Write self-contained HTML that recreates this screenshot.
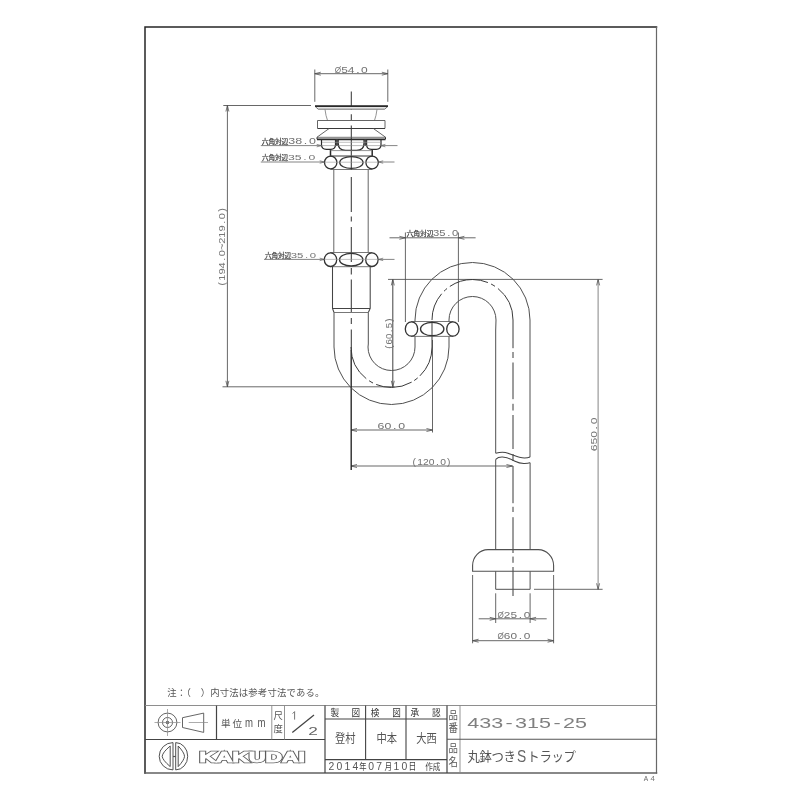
<!DOCTYPE html>
<html lang="ja"><head><meta charset="utf-8"><title>433-315-25 丸鉢つきSトラップ</title>
<style>
html,body{margin:0;padding:0;background:#fff;}
body{width:800px;height:800px;overflow:hidden;font-family:"Liberation Sans",sans-serif;}
svg{display:block;filter:grayscale(1) blur(0.45px)}
.t{font-family:"Liberation Sans",sans-serif;}
.m{font-family:"Liberation Mono",monospace;}
.j{font-family:"Liberation Sans","Noto Sans CJK JP",sans-serif;}
</style></head><body>
<svg width="800" height="800" viewBox="0 0 800 800">
<rect width="800" height="800" fill="#fff"/>
<g fill="none" stroke-linecap="square">
<path d="M145 773V27H656.5" stroke="#262626" stroke-width="1.5"/>
<path d="M656.5 27V773" stroke="#686868" stroke-width="1.2"/>
<path d="M145 773H656.5" stroke="#606060" stroke-width="1.5"/>
</g>
<g fill="none" stroke="#555" stroke-width="1">
<path d="M145 705.5H656.5" stroke="#888" stroke-width="0.95"/>
<path d="M145 739.5H325" stroke="#444" stroke-width="1.2"/>
<path d="M216.5 705.6V739.5" stroke="#444" stroke-width="1.2"/>
<path d="M271.8 705.6V739.5M284.5 705.6V739.5" stroke="#888" stroke-width="0.9"/>
<path d="M325 705.6V773" stroke="#444" stroke-width="1.2"/>
<path d="M325 719H447M325 759.6H447" stroke="#444" stroke-width="1.1"/>
<path d="M365.6 705.6V759.6M406 705.6V759.6" stroke="#444" stroke-width="1.1"/>
<path d="M447 705.6V773" stroke="#444" stroke-width="1.2"/>
<path d="M460 705.6V773" stroke="#888" stroke-width="0.9"/>
<path d="M447 739.2H656.5" stroke="#555" stroke-width="1.1"/>
</g>
<g fill="none" stroke="#555" stroke-width="0.9">
<circle cx="167.5" cy="722.5" r="9.4"/><circle cx="167.5" cy="722.5" r="5"/>
<circle cx="167.5" cy="722.5" r="1.3" fill="#555"/>
<path d="M154.5 722.5H180.5M167.5 709V736" stroke="#888" stroke-width="0.7"/>
<path d="M182.5 717.7V727.5L203.7 732.4V713.1Z"/>
<path d="M188.7 722.5H208" stroke="#888" stroke-width="0.7"/>
</g>
<g fill="#fff" stroke="#484848" stroke-width="0.95">
<path d="M173 742.6V769.9A13.8 13.65 0 0 1 173 742.6Z"/>
<path d="M170.2 746V766.6Q162.5 760 162.2 756.3Q162.5 752.5 170.2 746Z"/>
<path d="M175.7 742.6V769.9A12 13.65 0 0 0 175.7 742.6Z"/>
<path d="M178.2 746V766.6Q184.3 760 184.5 756.3Q184.3 752.5 178.2 746Z"/>
</g>
<path d="M173 756.5H175.7" stroke="#555" stroke-width="1.2"/>
<text x="199.4" y="761.9" font-family="Liberation Sans, sans-serif" font-weight="bold" font-size="14.6" textLength="105.6" lengthAdjust="spacingAndGlyphs" fill="#5c5c5c" stroke="#5c5c5c" stroke-width="2.4" stroke-linejoin="miter">KAKUDAI</text>
<text x="199.4" y="761.9" font-family="Liberation Sans, sans-serif" font-weight="bold" font-size="14.6" textLength="105.6" lengthAdjust="spacingAndGlyphs" fill="#fff" stroke="#fff" stroke-width="1.0" stroke-linejoin="miter" aria-hidden="true">KAKUDAI</text>
<text class="j" x="167.2" y="696.4" font-size="9.4" letter-spacing="0.16" fill="#555" xml:space="preserve">注：（　）内寸法は参考寸法である。</text>
<text class="j" x="221" y="727" font-size="9.6" fill="#555">単</text>
<text class="j" x="232.6" y="727" font-size="9.6" fill="#555">位</text>
<text x="245" y="727.3" class="t" font-size="12.4" fill="#555" textLength="8" lengthAdjust="spacingAndGlyphs">m</text><text x="257.6" y="727.3" class="t" font-size="12.4" fill="#555" textLength="8" lengthAdjust="spacingAndGlyphs">m</text>
<text class="j" x="273.6" y="718.8" font-size="9.4" fill="#555">尺</text>
<text class="j" x="273.6" y="732.4" font-size="9.4" fill="#555">度</text>
<path d="M292.6 713.6L294.6 711.6V719.6" fill="none" stroke="#666" stroke-width="0.9"/>
<text x="308.3" y="734.7" class="t" font-size="11.8" fill="#666" textLength="9.6" lengthAdjust="spacingAndGlyphs">2</text>
<path d="M292.3 732.6L314 715" stroke="#444" stroke-width="1.25"/>
<text class="j" transform="translate(330.4,716.3) scale(0.892,1)" font-size="9.64" fill="#333">製</text>
<text class="j" transform="translate(351.6,716.3) scale(0.892,1)" font-size="9.64" fill="#333">図</text>
<text class="j" transform="translate(370.8,716.3) scale(0.892,1)" font-size="9.64" fill="#333">検</text>
<text class="j" transform="translate(392.2,716.3) scale(0.892,1)" font-size="9.64" fill="#333">図</text>
<text class="j" transform="translate(410.4,716.3) scale(0.892,1)" font-size="9.64" fill="#333">承</text>
<text class="j" transform="translate(432,716.3) scale(0.892,1)" font-size="9.64" fill="#333">認</text>
<text class="j" transform="translate(335,743) scale(0.833,1)" font-size="12.36" fill="#555">登村</text>
<text class="j" transform="translate(376.4,743) scale(0.833,1)" font-size="12.36" fill="#555">中本</text>
<text class="j" transform="translate(416.2,743) scale(0.833,1)" font-size="12.36" fill="#555">大西</text>
<text x="328.4" y="770.1" class="t" font-size="10.4" letter-spacing="2.25" fill="#555">2014</text>
<text class="j" transform="translate(359.2,770.2) scale(0.76,1)" font-size="9.6" fill="#444">年</text>
<text x="368.2" y="770.1" class="t" font-size="10.4" letter-spacing="2.25" fill="#555">07</text>
<text class="j" transform="translate(384.4,770.2) scale(0.8,1)" font-size="9.6" fill="#444">月</text>
<text x="393.6" y="770.1" class="t" font-size="10.4" letter-spacing="2.25" fill="#555">10</text>
<text class="j" transform="translate(408.4,770.2) scale(0.8,1)" font-size="9.8" fill="#444">日</text>
<text class="j" transform="translate(425.2,769.8) scale(0.87,1)" font-size="8.74" fill="#444">作成</text>
<text class="j" transform="translate(448.4,718.8) scale(0.925,1)" font-size="10.16" fill="#555">品</text>
<text class="j" transform="translate(448.4,732.4) scale(0.87,1)" font-size="10.8" fill="#555">番</text>
<text class="j" transform="translate(448.4,752.2) scale(0.925,1)" font-size="10.16" fill="#555">品</text>
<text class="j" transform="translate(448.4,765.8) scale(0.87,1)" font-size="10.8" fill="#555">名</text>
<text class="t" font-size="14.7" fill="#808080" transform="translate(468.2,728.1) scale(1.4650,1)" x="-0.66 7.51 15.68 25.50 32.03 40.20 48.38 58.19 64.72 72.90" y="0">433-315-25</text>
<text class="j" transform="translate(467.6,761.4) scale(0.952,1)" font-size="13.02" fill="#555">丸</text>
<text class="j" transform="translate(479.6,761.4) scale(0.952,1)" font-size="13.02" fill="#555">鉢</text>
<text class="j" transform="translate(491.6,761.4) scale(0.952,1)" font-size="13.02" fill="#555">つ</text>
<text class="j" transform="translate(503.6,761.4) scale(0.952,1)" font-size="13.02" fill="#555">き</text>
<text class="j" transform="translate(527.2,761.4) scale(0.952,1)" font-size="13.02" fill="#555">ト</text>
<text class="j" transform="translate(539.4,761.4) scale(0.952,1)" font-size="13.02" fill="#555">ラ</text>
<text class="j" transform="translate(551.6,761.4) scale(0.952,1)" font-size="13.02" fill="#555">ッ</text>
<text class="j" transform="translate(563.4,761.4) scale(0.952,1)" font-size="13.02" fill="#555">プ</text>
<text x="516.9" y="762" class="t" font-size="16.4" fill="#666" textLength="9.2" lengthAdjust="spacingAndGlyphs">S</text>
<text x="643.7" y="781.3" class="t" font-size="7.8" fill="#666" textLength="4.4" lengthAdjust="spacingAndGlyphs">A</text><text x="650.5" y="781.3" class="t" font-size="7.8" fill="#777" textLength="4.4" lengthAdjust="spacingAndGlyphs">4</text>
<g fill="none" stroke="#4c4c4c" stroke-width="0.85">
<path d="M314.8 69.5V101.8M387.8 69.5V101.8M314.8 73.7H387.8"/>
<path d="M223.3 105.5H311M227.4 105.5V386.8M222.5 386.8H394.5"/>
<path d="M260.8 145.6H321M381 145.6H397.5M260.8 162H324M378.8 162H394.5M264 259.4H324M378.8 259.4H394.5" stroke="#666" stroke-width="0.8"/>
<path d="M405.4 232.5V322M458.4 232.5V322M389.5 237.8H405.4M458.4 237.8H475.6M405.4 237.8H458.4"/>
<path d="M388 279.4H602.6"/><path d="M392.8 279.4V386.8" stroke="#4a4a4a" stroke-width="1.05"/>
<path d="M432.5 340V432.5M351 430H432.5M351 466H512.5"/>
<path d="M598.1 279.4V589.3" stroke="#707070"/><path d="M534 589.3H602.6"/>
<path d="M472.6 575V643.3M553.6 575V643.3M472.6 640.7H553.6"/>
<path d="M495.7 593.3V623M530.1 593.3V623M478.7 618.8H546.7"/>
</g>
<polyline points="320.8,72.2 314.8,73.7 320.8,75.2" fill="none" stroke="#4c4c4c" stroke-width="0.75"/>
<polyline points="381.8,72.2 387.8,73.7 381.8,75.2" fill="none" stroke="#4c4c4c" stroke-width="0.75"/>
<polyline points="225.9,111.5 227.4,105.5 228.9,111.5" fill="none" stroke="#4c4c4c" stroke-width="0.75"/>
<polyline points="225.9,380.8 227.4,386.8 228.9,380.8" fill="none" stroke="#4c4c4c" stroke-width="0.75"/>
<polyline points="399.4,236.3 405.4,237.8 399.4,239.3" fill="none" stroke="#4c4c4c" stroke-width="0.75"/>
<polyline points="464.4,236.3 458.4,237.8 464.4,239.3" fill="none" stroke="#4c4c4c" stroke-width="0.75"/>
<polyline points="391.3,285.4 392.8,279.4 394.3,285.4" fill="none" stroke="#4c4c4c" stroke-width="0.75"/>
<polyline points="391.3,380.8 392.8,386.8 394.3,380.8" fill="none" stroke="#4c4c4c" stroke-width="0.75"/>
<polyline points="357,428.5 351,430 357,431.5" fill="none" stroke="#4c4c4c" stroke-width="0.75"/>
<polyline points="426.5,428.5 432.5,430 426.5,431.5" fill="none" stroke="#4c4c4c" stroke-width="0.75"/>
<polyline points="357,464.5 351,466 357,467.5" fill="none" stroke="#4c4c4c" stroke-width="0.75"/>
<polyline points="506.5,464.5 512.5,466 506.5,467.5" fill="none" stroke="#4c4c4c" stroke-width="0.75"/>
<polyline points="596.6,285.4 598.1,279.4 599.6,285.4" fill="none" stroke="#4c4c4c" stroke-width="0.75"/>
<polyline points="596.6,583.3 598.1,589.3 599.6,583.3" fill="none" stroke="#4c4c4c" stroke-width="0.75"/>
<polyline points="478.6,639.2 472.6,640.7 478.6,642.2" fill="none" stroke="#4c4c4c" stroke-width="0.75"/>
<polyline points="547.6,639.2 553.6,640.7 547.6,642.2" fill="none" stroke="#4c4c4c" stroke-width="0.75"/>
<polyline points="489.7,617.3 495.7,618.8 489.7,620.3" fill="none" stroke="#4c4c4c" stroke-width="0.75"/>
<polyline points="536.1,617.3 530.1,618.8 536.1,620.3" fill="none" stroke="#4c4c4c" stroke-width="0.75"/>
<polyline points="316.7,144.35 321.3,145.6 316.7,146.85" fill="none" stroke="#666" stroke-width="0.7"/>
<polyline points="385.40000000000003,144.35 380.8,145.6 385.40000000000003,146.85" fill="none" stroke="#666" stroke-width="0.7"/>
<polyline points="319.7,160.75 324.3,162 319.7,163.25" fill="none" stroke="#666" stroke-width="0.7"/>
<polyline points="383.20000000000005,160.75 378.6,162 383.20000000000005,163.25" fill="none" stroke="#666" stroke-width="0.7"/>
<polyline points="319.7,258.15 324.3,259.4 319.7,260.65" fill="none" stroke="#666" stroke-width="0.7"/>
<polyline points="383.20000000000005,258.15 378.6,259.4 383.20000000000005,260.65" fill="none" stroke="#666" stroke-width="0.7"/>
<g fill="none" stroke="#3a3a3a" stroke-width="1.05">
<path d="M351.3 91.5V109.5M351.3 114.2V120M351.3 125.5V170M351.3 177V212M351.3 216.5V221.5M351.3 227V262M351.3 268V274.5M351.3 279.5V313M351.3 318V324M351.3 329.5V350"/>
</g>
<path d="M351.2 350V470" stroke="#2a2a2a" stroke-width="1.4" fill="none"/>
<g fill="none" stroke="#3a3a3a" stroke-width="1.0">
<path d="M351 347A40.5 40.5 0 0 0 432 347" stroke-dasharray="36.3 3.5 4.5 3.5 36.8 3 4.4 3 40 0"/>
<path d="M432 347V321"/>
<path d="M432 320A40.5 40.5 0 0 1 513 320" stroke-dasharray="28.5 3.5 4 3.5 39.8 3.5 4.5 3.7 45 0"/>
<path d="M513 320V348.2M513 352V358M513 362.5V399.2M513 403.8V410.5M513 415V449M513 454V461M513 466V503.2M513 506.8V512M513 517.2V553M513 556.6V562.8M513 567V596"/>
</g>
<g fill="none" stroke="#2a2a2a" stroke-width="1.1" stroke-linejoin="round">
<path d="M315 106.3L318.2 109.2H384.6L388 106.3Z" fill="#e4e4e4" stroke="#555" stroke-width="0.8"/>
<path d="M315 106.2H388" stroke-width="1.8"/>
<path d="M325 109.4Q325.8 116 327.5 120.4M377 109.4Q376.2 116 374.5 120.4" stroke-width="0.8" stroke="#777"/>
<path d="M317.5 128.4V120.5H385V128.4" stroke-width="0.9" stroke="#555"/>
<path d="M317.5 128.5H385" stroke-width="1.1" stroke="#3a3a3a"/>
<path d="M329 128.6L317 137.2M373.5 128.6L385.5 137.2" stroke-width="0.9" stroke="#555"/>
<path d="M317 137.3H385.5" stroke-width="0.8" stroke="#555"/>
<path d="M317 137.3V139.2M385.5 137.3V139.2" stroke-width="1"/>
<path d="M317 139.3H385.5" stroke-width="1.8"/>
<path d="M321.5 139.5V144.5Q321.5 149.3 326.3 149.3H330.7Q335.5 149.3 335.5 144.5V139.5" stroke-width="1.2"/>
<path d="M338.2 139.5V143Q338.2 150.4 345.6 150.4H356.6Q364 150.4 364 143V139.5" stroke-width="1.2"/>
<path d="M366.6 139.5V144.5Q366.6 149.3 371.4 149.3H376.2Q381 149.3 381 144.5V139.5" stroke-width="1.2"/>
<path d="M336.85 139.5V146M365.3 139.5V146" stroke-width="2.2" stroke="#444"/>
<path d="M322 142.3H381" stroke-width="0.6" stroke="#999"/>
<path d="M321 145.6H382" stroke-width="0.6" stroke="#888"/>
<path d="M330.5 149.3V156.5M372.2 149.3V156.5" stroke-width="1.5"/>
<path d="M330.5 150.6H372.2M330.5 156H372.2" stroke-width="0.8" stroke="#777"/>
</g>
<g fill="none" stroke="#333" stroke-width="1.3"><path d="M330.4 156H372.4M330.4 169.5H372.4" stroke-width="0.8" stroke="#555"/><ellipse cx="330.7" cy="162.5" rx="6.2" ry="6.45"/><ellipse cx="372.09999999999997" cy="162.5" rx="6.2" ry="6.45"/><ellipse cx="351.4" cy="162.5" rx="11.7" ry="5.95"/><path d="M324.4 162.2H378.4" stroke="#999" stroke-width="0.6"/></g>
<g fill="none" stroke="#333" stroke-width="1.3"><path d="M330.2 252.5H372.2M330.2 266.7H372.2" stroke-width="0.8" stroke="#555"/><ellipse cx="330.5" cy="259.7" rx="6.2" ry="6.7999999999999945"/><ellipse cx="371.9" cy="259.7" rx="6.2" ry="6.7999999999999945"/><ellipse cx="351.2" cy="259.7" rx="11.7" ry="6.2999999999999945"/><path d="M324.2 259.4H378.2" stroke="#999" stroke-width="0.6"/></g>
<g fill="none" stroke="#333" stroke-width="1.3"><path d="M411.2 321.5H453.2M411.2 336.4H453.2" stroke-width="0.8" stroke="#555"/><ellipse cx="411.5" cy="329" rx="6.2" ry="7.149999999999989"/><ellipse cx="452.9" cy="329" rx="6.2" ry="7.149999999999989"/><ellipse cx="432.2" cy="329" rx="11.7" ry="6.649999999999989"/></g>
<g fill="none" stroke="#505050" stroke-width="1.0">
<path d="M333.8 169.5V252.5M368.2 169.5V252.5" stroke="#666"/>
<path d="M332.5 266.6V308.5L334 312.5M370.2 266.6V308.5L368.3 312.5M332.5 308.5H370.2" stroke="#444" stroke-width="1.05"/><path d="M334 312.5H368.3" stroke="#777"/>
<path d="M334 312.5V347A57.5 57.5 0 0 0 449 347V336.6"/>
<path d="M368.3 312.5V344L368 347A23.5 23.5 0 0 0 415 347V336.6"/>
<path d="M415 321.6V320A57.5 57.5 0 0 1 530 320V457"/>
<path d="M449 321.6V320A23.5 23.5 0 0 1 496 320L495.7 330V453.2"/>
<path d="M495.7 453.2C500 452.2 504.5 452 508 453.2C514 455.2 518.5 457.9 524.5 457.9C526.5 457.9 528.5 457.6 530.1 457" stroke="#444" stroke-width="1.05"/>
<path d="M495.7 459.4C497.5 457.6 500 457 502.5 457.1C507.5 457.4 512 459.6 515 461.2C518.5 463 522 463.5 524.5 463.4C526.5 463.3 528.5 463.1 530.1 462.7" stroke="#444" stroke-width="1.05"/>
<path d="M495.7 459.4V549.6M530.1 462.7V549.6M495.7 571.3V589.3H530.1V571.3"/>
<path d="M472.6 571.3V565.6A15.4 16 0 0 1 488 549.6H538.2A15.4 16 0 0 1 553.6 565.6V571.3Z" stroke-width="1.1"/>
</g>
<text class="t" font-size="8.8" fill="#727272" transform="translate(335,72.6) scale(0.9348,1)" x="-0.32" y="0">Ø</text><text class="t" font-size="8.8" fill="#727272" transform="translate(335,72.6) scale(1.3625,1)" x="4.50 9.39 15.51 19.18" y="0">54.0</text>
<text class="j" font-size="6.8" fill="#444" stroke="#444" stroke-width="0.24" x="261.8 268.4 275 281.6" y="143.8">六角対辺</text>
<text class="t" font-size="9.0" fill="#727272" transform="translate(288.8,144.1) scale(1.3879,1)" x="-0.40 4.60 10.85 14.61" y="0">38.0</text>
<text class="j" font-size="6.6" fill="#444" stroke="#444" stroke-width="0.23" x="262 268.5 275 281.5" y="160.2">六角対辺</text>
<text class="t" font-size="8.0" fill="#727272" transform="translate(288.6,160.3) scale(1.5262,1)" x="-0.36 4.09 9.65 12.98" y="0">35.0</text>
<text class="j" font-size="6.6" fill="#444" stroke="#444" stroke-width="0.23" x="265 271.5 278 284.5" y="257.8">六角対辺</text>
<text class="t" font-size="8.0" fill="#727272" transform="translate(291.2,258) scale(1.4205,1)" x="-0.36 4.09 9.65 12.98" y="0">35.0</text>
<text class="j" font-size="6.9" fill="#444" stroke="#444" stroke-width="0.24" x="406.6 413.3 420 426.7" y="236">六角対辺</text>
<text class="t" font-size="8.6" fill="#727272" transform="translate(433.6,236.3) scale(1.3105,1)" x="-0.39 4.39 10.37 13.96" y="0">35.0</text>
<text class="t" font-size="8.7" fill="#727272" transform="translate(378.1,428.8) scale(1.4196,1)" x="-0.39 4.45 10.49 14.12" y="0">60.0</text>
<text class="t" font-size="8.8" fill="#727272" transform="translate(411.9,464.6) scale(1.1760,1)" x="0.59 4.50 9.39 14.28 20.40 24.07 29.94" y="0">(120.0)</text>
<text class="t" font-size="8.8" fill="#727272" transform="translate(497.8,617.8) scale(0.9261,1)" x="-0.32" y="0">Ø</text><text class="t" font-size="8.8" fill="#727272" transform="translate(497.8,617.8) scale(1.3499,1)" x="4.50 9.39 15.51 19.18" y="0">25.0</text>
<text class="t" font-size="8.8" fill="#727272" transform="translate(497.8,638.7) scale(0.9261,1)" x="-0.32" y="0">Ø</text><text class="t" font-size="8.8" fill="#727272" transform="translate(497.8,638.7) scale(1.3499,1)" x="4.50 9.39 15.51 19.18" y="0">60.0</text>
<text class="t" font-size="8.8" fill="#727272" transform="translate(391.9,349.4) rotate(-90) scale(1.1008,1)" x="0.59 4.50 9.39 15.51 19.18 25.05" y="0">(60.5)</text>
<text class="t" font-size="8.8" fill="#727272" transform="translate(597.2,450.8) rotate(-90) scale(1.3795,1)" x="-0.40 4.50 9.39 15.51 19.18" y="0">650.0</text>
<text class="t" font-size="9.2" fill="#777" transform="translate(224.7,286.4) rotate(-90) scale(1.2038,1)" x="0.61 4.70 9.82 14.93 21.33 25.16 30.15 35.39 40.51 45.62 52.02 55.85 61.99" y="0">(194.0~219.0)</text>
</svg>
</body></html>
